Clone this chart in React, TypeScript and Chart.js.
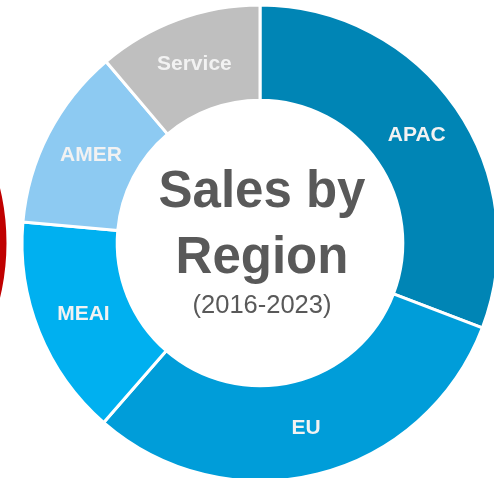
import React, { useEffect, useRef } from "react";
import { Chart, registerables } from "chart.js";

Chart.register(...registerables);

// ---- Data ----
const regions = ["APAC", "EU", "MEAI", "AMER", "Service"];
const salesShare = [30.8, 30.6, 15.0, 12.4, 11.2];
const regionColors = ["#0085B5", "#009DD9", "#00B0F0", "#8DCAF2", "#BFBFBF"];
const titleLines = ["Sales by", "Region"];
const subtitle = "(2016-2023)";

// neighbouring (mostly off-screen) chart on the left
const neighbourLabels = ["Other"];
const neighbourValues = [100];
const neighbourColors = ["#C00000"];

const FONT = "'Liberation Sans', Arial, Helvetica, sans-serif";

const segmentLabels = {
  id: "segmentLabels",
  afterDatasetsDraw(chart: any) {
    const meta = chart.getDatasetMeta(0);
    const ctx = chart.ctx;
    ctx.save();
    ctx.font = `bold 21px ${FONT}`;
    ctx.fillStyle = "#F2F2F2";
    ctx.textAlign = "center";
    ctx.textBaseline = "middle";
    meta.data.forEach((arc: any, i: number) => {
      const p = arc.tooltipPosition(false);
      ctx.fillText(String(chart.data.labels[i]), p.x, p.y);
    });
    ctx.restore();
  },
};

const centerText = {
  id: "centerText",
  afterDraw(chart: any) {
    const arc = chart.getDatasetMeta(0).data[0];
    if (!arc) return;
    const cx = arc.x + 2;
    const cy = arc.y;
    const ctx = chart.ctx;
    ctx.save();
    ctx.fillStyle = "#595959";
    ctx.textAlign = "center";
    ctx.textBaseline = "alphabetic";
    ctx.font = `bold 51px ${FONT}`;
    ctx.fillText(titleLines[0], cx, cy - 36);
    ctx.fillText(titleLines[1], cx, cy + 30);
    ctx.font = `25.5px ${FONT}`;
    ctx.fillText(subtitle, cx, cy + 70);
    ctx.restore();
  },
};

function App() {
  const mainRef = useRef<HTMLCanvasElement | null>(null);
  const sideRef = useRef<HTMLCanvasElement | null>(null);

  useEffect(() => {
    const main = new Chart(mainRef.current as HTMLCanvasElement, {
      type: "doughnut",
      data: {
        labels: regions,
        datasets: [
          {
            data: salesShare,
            backgroundColor: regionColors,
            borderColor: "#FFFFFF",
            borderWidth: 3,
          },
        ],
      },
      options: {
        responsive: false,
        animation: false,
        radius: 238,
        cutout: "60%",
        layout: { padding: 0 },
        plugins: {
          legend: { display: false },
          tooltip: { enabled: false },
        },
      },
      plugins: [segmentLabels, centerText],
    } as any);

    const side = new Chart(sideRef.current as HTMLCanvasElement, {
      type: "doughnut",
      data: {
        labels: neighbourLabels,
        datasets: [
          {
            data: neighbourValues,
            backgroundColor: neighbourColors,
            borderWidth: 0,
          },
        ],
      },
      options: {
        responsive: false,
        animation: false,
        radius: 236.5,
        cutout: "60%",
        plugins: {
          legend: { display: false },
          tooltip: { enabled: false },
        },
      },
    } as any);

    return () => {
      main.destroy();
      side.destroy();
    };
  }, []);

  return (
    <div
      style={{
        position: "fixed",
        left: 0,
        top: 0,
        width: 494,
        height: 478,
        overflow: "hidden",
        background: "#FFFFFF",
      }}
    >
      <canvas
        ref={sideRef}
        width={520}
        height={486}
        style={{ position: "absolute", left: -490, top: 0, width: 520, height: 486 }}
      />
      <canvas
        ref={mainRef}
        width={520}
        height={486}
        style={{ position: "absolute", left: 0, top: 0, width: 520, height: 486 }}
      />
    </div>
  );
}

export default App;
